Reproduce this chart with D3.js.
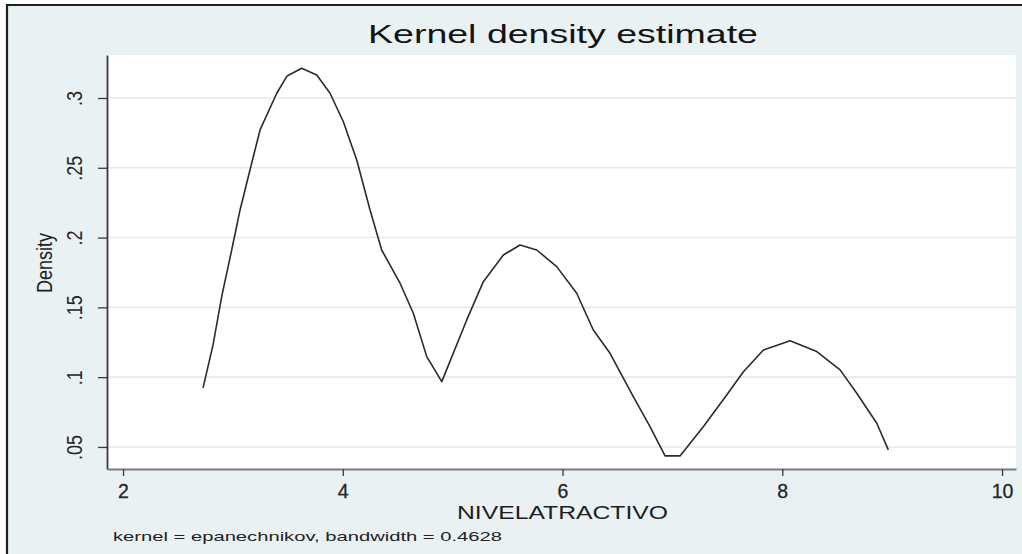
<!DOCTYPE html>
<html>
<head>
<meta charset="utf-8">
<script src="https://cdn.jsdelivr.net/npm/d3@7"></script>
<style>
  html, body { margin: 0; padding: 0; background: #ffffff; }
  svg { display: block; font-family: "Liberation Sans", Arial, sans-serif; }
</style>
</head>
<body>
<svg id="chart" width="1022" height="554"></svg>
<script>
// Kernel density estimate of NIVELATRACTIVO (Epanechnikov kernel)
const gridX = [2.728, 2.819, 2.901, 2.989, 3.065, 3.140, 3.247, 3.399, 3.493, 3.626,
               3.763, 3.884, 4.005, 4.127, 4.248, 4.354, 4.521, 4.642, 4.764, 4.901,
               5.128, 5.279, 5.461, 5.613, 5.765, 5.947, 6.129, 6.280, 6.432, 6.644,
               6.796, 6.933, 7.069, 7.281, 7.494, 7.646, 7.828, 8.071, 8.314, 8.526,
               8.678, 8.860, 8.965];
const density = [0.0923, 0.1231, 0.1589, 0.1911, 0.2198, 0.2436, 0.2771, 0.3034, 0.3158, 0.3213,
                 0.3165, 0.3034, 0.2830, 0.2556, 0.2198, 0.1911, 0.1673, 0.1458, 0.1147, 0.0968,
                 0.1410, 0.1684, 0.1875, 0.1947, 0.1911, 0.1792, 0.1601, 0.1338, 0.1171, 0.0860,
                 0.0645, 0.0436, 0.0436, 0.0645, 0.0872, 0.1039, 0.1195, 0.1261, 0.1183, 0.1052,
                 0.0885, 0.0670, 0.0479];

const xTicks = [2, 4, 6, 8, 10];
const xTickLabels = ["2", "4", "6", "8", "10"];
const yTicks = [0.05, 0.10, 0.15, 0.20, 0.25, 0.30];
const yTickLabels = [".05", ".1", ".15", ".2", ".25", ".3"];

const titleText = "Kernel density estimate";
const xTitle = "NIVELATRACTIVO";
const yTitle = "Density";
const noteText = "kernel = epanechnikov, bandwidth = 0.4628";

const xDomain = [1.854, 10.127];
const yDomain = [0.0342, 0.3308];

// layout
const plot = { left: 107, right: 1016, top: 55, bottom: 469 };
const svg = d3.select("#chart");

// outer graph region
svg.append("rect")
  .attr("x", 7).attr("y", 5).attr("width", 1022).attr("height", 560)
  .attr("fill", "#eaf1f3");
svg.append("path")
  .attr("d", "M7,554V5H1022")
  .attr("fill", "none").attr("stroke", "#1e1e1e").attr("stroke-width", 2.2);

// plot region
svg.append("rect")
  .attr("x", plot.left).attr("y", plot.top)
  .attr("width", plot.right - plot.left).attr("height", plot.bottom - plot.top)
  .attr("fill", "#ffffff");

const x = d3.scaleLinear().domain(xDomain).range([plot.left, plot.right]);
const y = d3.scaleLinear().domain(yDomain).range([plot.bottom, plot.top]);

// horizontal grid lines
svg.append("g")
  .selectAll("line")
  .data(yTicks)
  .join("line")
  .attr("x1", plot.left).attr("x2", plot.right)
  .attr("y1", d => y(d)).attr("y2", d => y(d))
  .attr("stroke", "#e3eaed").attr("stroke-width", 1.6);

// density curve
const line = d3.line()
  .x((d, i) => x(gridX[i]))
  .y(d => y(d));
svg.append("path")
  .datum(density)
  .attr("d", line)
  .attr("fill", "none")
  .attr("stroke", "#2b2b2b")
  .attr("stroke-width", 1.6)
  .attr("stroke-linejoin", "round");

// y axis with vertical labels
const yAxis = d3.axisLeft(y)
  .tickValues(yTicks)
  .tickFormat((d, i) => yTickLabels[i])
  .tickSize(9)
  .tickSizeOuter(0);
const gy = svg.append("g")
  .attr("transform", `translate(${plot.left},0)`)
  .call(yAxis);
gy.select(".domain").attr("stroke", "#3a3a3a").attr("stroke-width", 1.8);
gy.selectAll(".tick line").attr("stroke", "#3a3a3a").attr("stroke-width", 1.3);
gy.selectAll(".tick text")
  .attr("x", 0).attr("dy", 0)
  .attr("transform", "translate(-25,0) scale(1.2,1) rotate(-90)")
  .attr("text-anchor", "middle")
  .attr("font-size", 18)
  .attr("fill", "#262626")
  .attr("font-family", "Liberation Sans, Arial, sans-serif");

// x axis
const xAxis = d3.axisBottom(x)
  .tickValues(xTicks)
  .tickFormat((d, i) => xTickLabels[i])
  .tickSize(7)
  .tickSizeOuter(0);
const gx = svg.append("g")
  .attr("transform", `translate(0,${plot.bottom})`)
  .call(xAxis);
gx.select(".domain").attr("stroke", "#7a7a7a").attr("stroke-width", 2);
gx.selectAll(".tick line").attr("stroke", "#3a3a3a").attr("stroke-width", 1.3);
gx.selectAll(".tick text")
  .attr("y", 29).attr("dy", 0)
  .attr("font-size", 19.5)
  .attr("fill", "#262626")
  .attr("stroke", "#262626").attr("stroke-width", 0.3)
  .attr("font-family", "Liberation Sans, Arial, sans-serif");

// titles
svg.append("text")
  .attr("x", 368).attr("y", 43)
  .attr("font-size", 25)
  .attr("textLength", 390).attr("lengthAdjust", "spacingAndGlyphs")
  .attr("fill", "#141414")
  .text(titleText);

svg.append("text")
  .attr("x", 457).attr("y", 519)
  .attr("font-size", 18)
  .attr("textLength", 211).attr("lengthAdjust", "spacingAndGlyphs")
  .attr("fill", "#1e1e1e")
  .text(xTitle);

svg.append("text")
  .attr("transform", "translate(52,263) scale(1.2,1) rotate(-90)")
  .attr("text-anchor", "middle")
  .attr("font-size", 18)
  .attr("fill", "#1e1e1e")
  .text(yTitle);

svg.append("text")
  .attr("x", 113).attr("y", 541)
  .attr("font-size", 13.5)
  .attr("textLength", 389).attr("lengthAdjust", "spacingAndGlyphs")
  .attr("fill", "#222222")
  .text(noteText);
</script>
</body>
</html>
